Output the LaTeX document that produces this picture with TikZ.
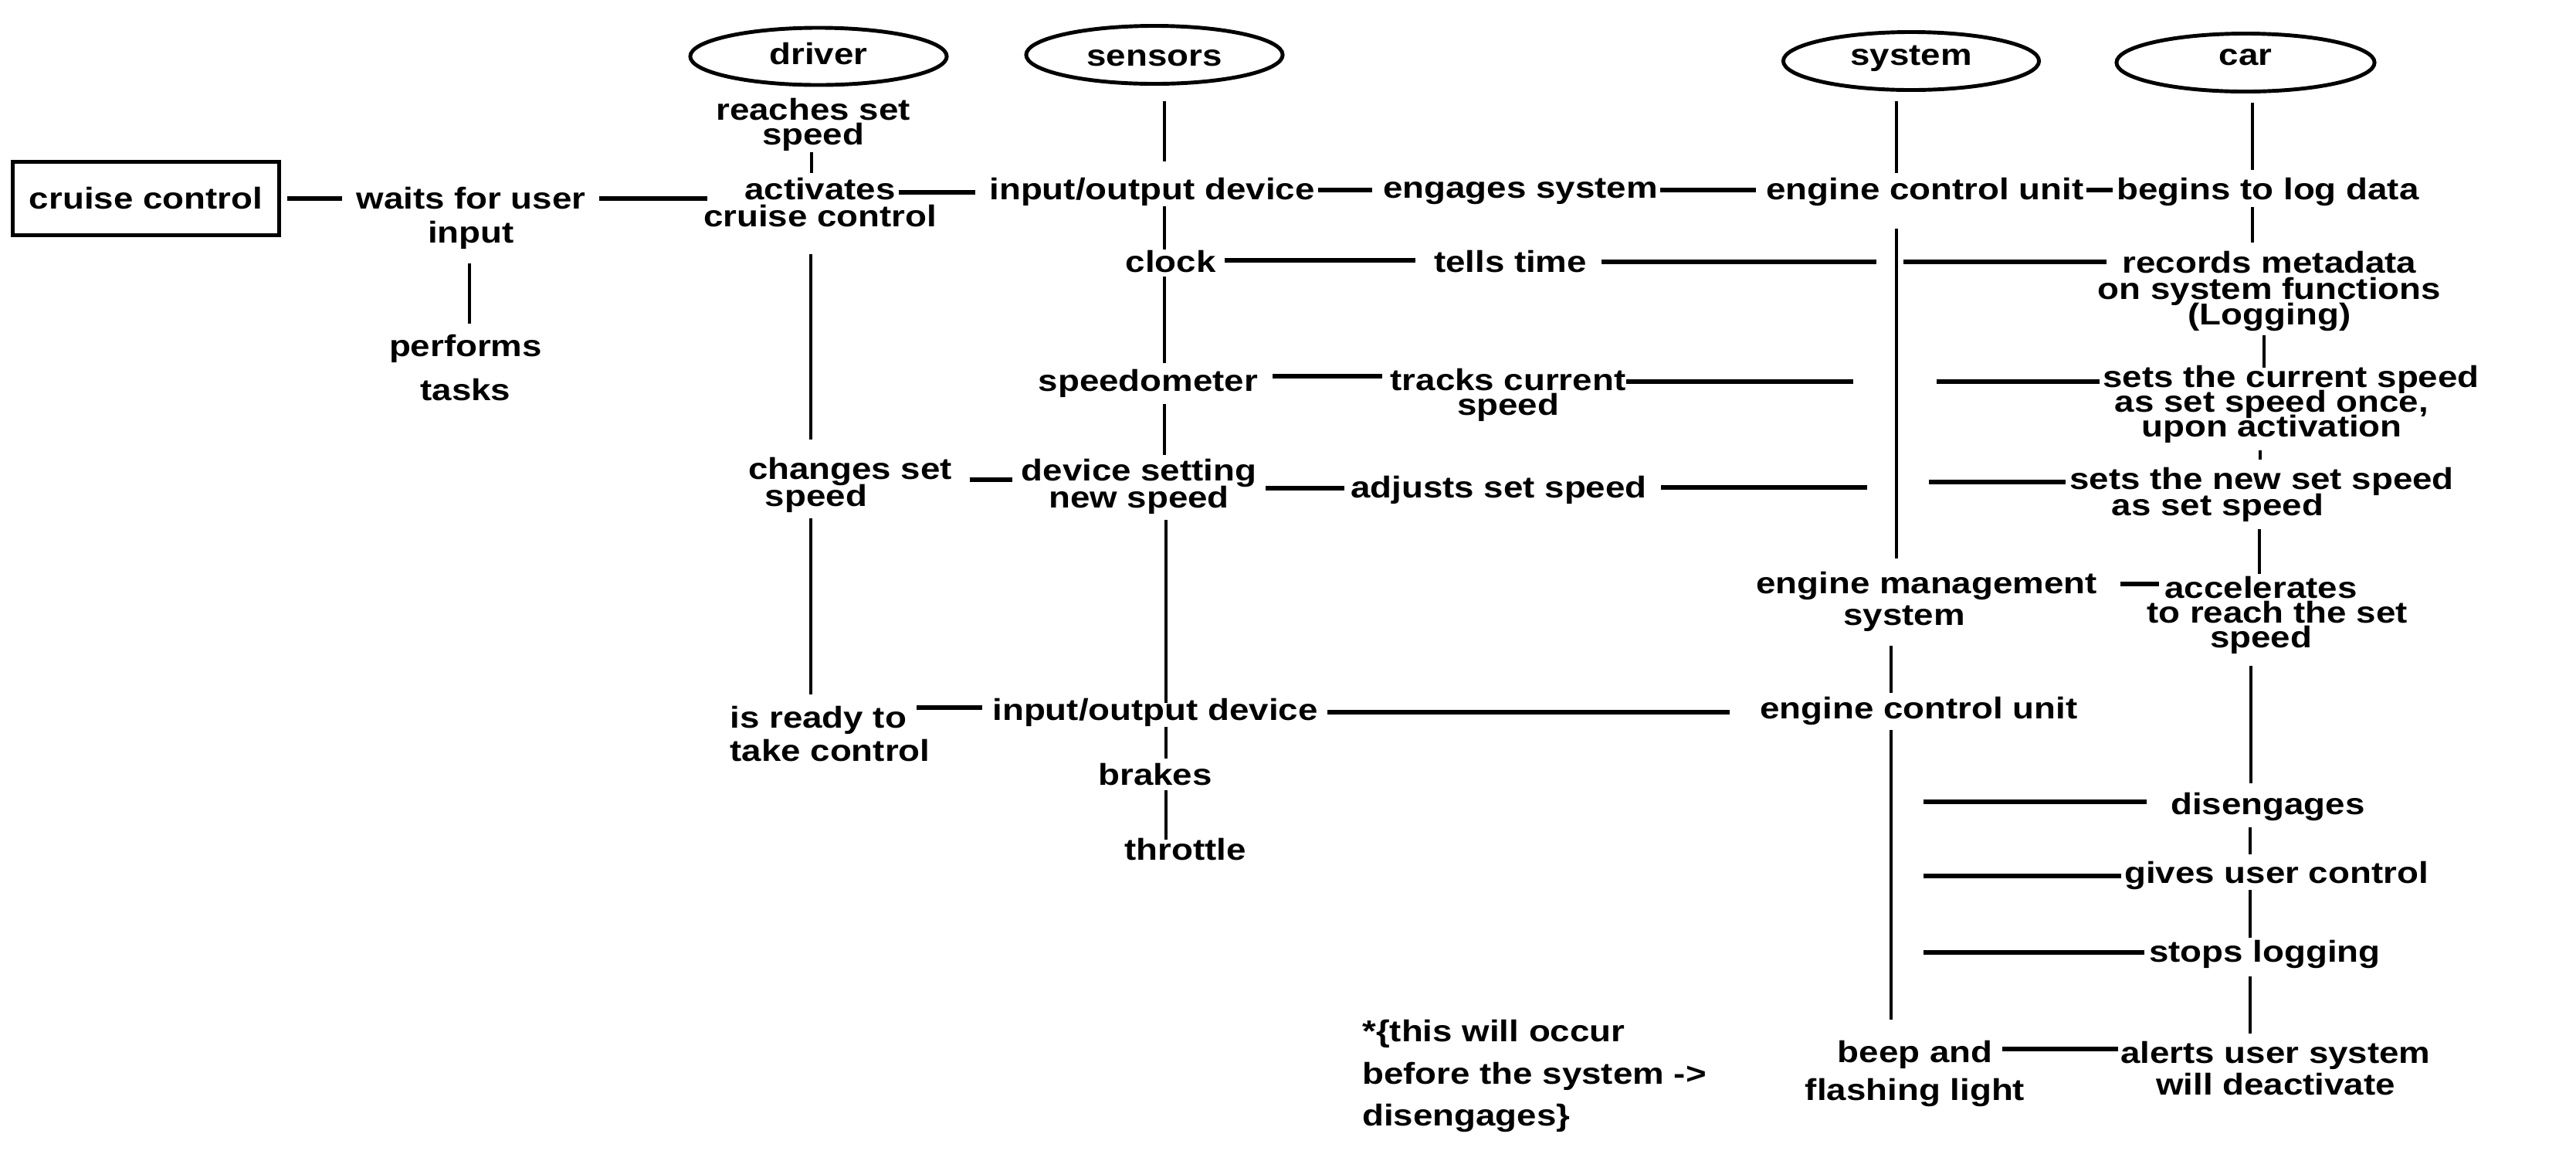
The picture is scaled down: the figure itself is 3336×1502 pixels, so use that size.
\documentclass[tikz,border=0pt]{standalone}
\usepackage{fontspec}
\setmainfont{Liberation Sans}[FakeStretch=1.17]
\usetikzlibrary{shapes.geometric}
\newcommand\lf[1]{\fontsize{11.1pt}{#1pt}\selectfont\bfseries\lineskiplimit=-100pt\relax}
\begin{document}
\begin{tikzpicture}[x=0.01cm, y=-0.01cm,
  txt/.style={align=center, inner sep=0pt, font=\lf{10}},
  actor/.style={ellipse, draw, line width=1.4pt, minimum width=3.32cm, minimum height=0.74cm, inner sep=0pt, font=\lf{10}, text height=0.28cm},
  hl/.style={line width=1.45pt},
  vl/.style={line width=1.1pt}]
\useasboundingbox (0,0) rectangle (3336,1502);

% nodes
\node[draw, line width=1.4pt, minimum width=3.44cm, minimum height=0.95cm, inner sep=0pt, font=\lf{10}] (cc) at (189,257) {cruise control};
\node[txt, font=\lf{12.5}] (waits) at (610,282) {waits for user\\input};
\node[txt, font=\lf{16.2}] (perf) at (603,476) {performs\\tasks};
\node[actor, text depth=0.08cm] (driver) at (1060,73) {driver};
\node[txt, font=\lf{9.1}] (reach) at (1053,161) {reaches set\\speed};
\node[txt] (activ) at (1062,262) {activates\\cruise control};
\node[txt] (chg) at (1101,628) {changes set\\speed\hspace*{0.88cm}};
\node[txt, align=left, font=\lf{12}] (ready) at (1075,950) {is ready to\\take control};
\node[actor, minimum height=0.75cm, text depth=0cm] (sensors) at (1495,71) {sensors};
\node[txt] (io1) at (1492,248) {input/output device};
\node[txt] (clock) at (1516,339) {clock};
\node[txt] (speedo) at (1487,496) {speedometer};
\node[txt] (device) at (1475,630) {device setting\\new speed};
\node[txt] (io2) at (1496,922) {input/output device};
\node[txt] (brakes) at (1496,1003) {brakes};
\node[txt] (throttle) at (1535,1100) {throttle};
\node[txt] (engages) at (1969,248) {engages system};
\node[txt] (tells) at (1956,339) {tells time};
\node[txt, font=\lf{9.1}] (tracks) at (1953,511) {tracks current\\speed};
\node[txt] (adjusts) at (1941,634) {adjusts set speed};
\node[actor, minimum width=3.31cm, minimum height=0.75cm, text depth=0.18cm] (system) at (2475,79) {system};
\node[actor, minimum width=3.34cm, minimum height=0.75cm, text depth=0.22cm] (car) at (2908,81) {car};
\node[txt] (ecu1) at (2493,248) {engine control unit};
\node[txt] (begins) at (2937,248) {begins to log data};
\node[txt, font=\lf{9.4}] (records) at (2939,377) {records metadata\\on system functions\\(Logging)};
\node[txt, font=\lf{9.1}] (setcur) at (2942,523) {\hspace*{0.5cm}sets the current speed\\as set speed once,\\upon activation};
\node[txt, font=\lf{9.7}] (setnew) at (2929,640) {sets the new set speed\\as set speed\hspace*{1.14cm}};
\node[txt, font=\lf{11.7}] (ems) at (2495,779) {engine management\\system\hspace*{0.58cm}};
\node[txt, font=\lf{9.1}] (accel) at (2928,796) {accelerates\\\hspace*{0.42cm}to reach the set\\speed};
\node[txt] (ecu2) at (2485,920) {engine control unit};
\node[txt] (diseng) at (2937,1044) {disengages};
\node[txt] (gives) at (2948,1133) {gives user control};
\node[txt] (stops) at (2933,1235) {stops logging};
\node[txt, font=\lf{13.9}] (beep) at (2480,1390) {beep and\\flashing light};
\node[txt, font=\lf{11.4}] (alerts) at (2947,1383) {alerts user system\\will deactivate};
\node[txt, align=left, font=\lf{15.6}] (note) at (1987,1393) {*\{this will occur\\before the system ->\\disengages\}};

% free ends beside the system lifeline
\coordinate (g1a) at (2430,339); \coordinate (g1b) at (2465,339);
\coordinate (g2a) at (2400,494); \coordinate (g2b) at (2508,494);
\coordinate (g3a) at (2418,631); \coordinate (g3b) at (2498,624);
\coordinate (g4) at (2491,1038);
\coordinate (g5) at (2491,1134);
\coordinate (g6) at (2491,1233);

% horizontal connectors
\draw[hl] ([shift={(8,0)}]cc.east) -- ([shift={(-18,-25)}]waits.west);
\draw[hl] ([shift={(17,-25)}]waits.east) -- ([shift={(6,-5)}]activ.west);
\draw[hl] ([shift={(-50,-13)}]activ.east) -- ([shift={(-18,1)}]io1.west);
\draw[hl] ([shift={(4,-2)}]io1.east) -- ([shift={(-14,-2)}]engages.west);
\draw[hl] ([shift={(3,-2)}]engages.east) -- ([shift={(-13,-2)}]ecu1.west);
\draw[hl] ([shift={(3,-2)}]ecu1.east) -- ([shift={(-5,-2)}]begins.west);
\draw[hl] ([shift={(11,-2)}]clock.east) -- ([shift={(-23,-2)}]tells.west);
\draw[hl] ([shift={(18,0)}]tells.east) -- (g1a);
\draw[hl] (g1b) -- ([shift={(12,-38)}]records.west);
\draw[hl] ([shift={(18,-9)}]speedo.east) -- ([shift={(-10,-24)}]tracks.west);
\draw[hl] ([shift={(0,-17)}]tracks.east) -- (g2a);
\draw[hl] (g2b) -- ([shift={(46,-29)}]setcur.west);
\draw[hl] ([shift={(22,-7)}]chg.east) -- ([shift={(-11,-9)}]device.west);
\draw[hl] ([shift={(11,2)}]device.east) -- ([shift={(-8,-2)}]adjusts.west);
\draw[hl] ([shift={(18,-3)}]adjusts.east) -- (g3a);
\draw[hl] (g3b) -- ([shift={(-5,-16)}]setnew.west);
\draw[hl] ([shift={(29,-23)}]ems.east) -- ([shift={(58,-40)}]accel.west);
\draw[hl] ([shift={(-18,-34)}]ready.east) -- ([shift={(-13,-6)}]io2.west);
\draw[hl] ([shift={(12,0)}]io2.east) -- ([shift={(-39,2)}]ecu2.west);
\draw[hl] (g4) -- ([shift={(-31,-6)}]diseng.west);
\draw[hl] (g5) -- ([shift={(-4,1)}]gives.west);
\draw[hl] (g6) -- ([shift={(-6,-2)}]stops.west);
\draw[hl] ([shift={(-30,-32)}]beep.east) -- ([shift={(-3,-25)}]alerts.west);

% vertical connectors
\draw[vl] ([shift={(-2,18)}]waits.south) -- ([shift={(5,-13)}]perf.north);
\draw[vl] ([shift={(-2,1)}]reach.south) -- ([shift={(-11,-5)}]activ.north);
\draw[vl] ([shift={(-12,34)}]activ.south) -- ([shift={(-51,-23)}]chg.north);
\draw[vl] ([shift={(-51,7)}]chg.south) -- ([shift={(-25,-15)}]ready.north);
\draw[vl] ([shift={(13,20)}]sensors.south) -- ([shift={(16,-20)}]io1.north);
\draw[vl] ([shift={(16,0)}]io1.south) -- ([shift={(-8,-1)}]clock.north);
\draw[vl] ([shift={(-8,4)}]clock.south) -- ([shift={(21,-7)}]speedo.north);
\draw[vl] ([shift={(21,8)}]speedo.south) -- ([shift={(33,-5)}]device.north);
\draw[vl] ([shift={(35,7)}]device.south) -- ([shift={(14,7)}]io2.north);
\draw[vl] ([shift={(14,0)}]io2.south) -- ([shift={(14,-6)}]brakes.north);
\draw[vl] ([shift={(14,5)}]brakes.south) -- ([shift={(-25,2)}]throttle.north);
\draw[vl] ([shift={(-19,12)}]system.south) -- ([shift={(-37,-5)}]ecu1.north);
\draw[vl] ([shift={(-37,29)}]ecu1.south) -- ([shift={(-39,-17)}]ems.north);
\draw[vl] ([shift={(-46,18)}]ems.south) -- ([shift={(-36,-4)}]ecu2.north);
\draw[vl] ([shift={(-36,6)}]ecu2.south) -- ([shift={(-31,-27)}]beep.north);
\draw[vl] ([shift={(9,12)}]car.south) -- ([shift={(-20,-9)}]begins.north);
\draw[vl] ([shift={(-20,1)}]begins.south) -- ([shift={(-22,-11)}]records.north);
\draw[vl] ([shift={(-7,5)}]records.south) -- ([shift={(-10,4)}]setcur.north);
\draw[vl] ([shift={(-15,9)}]setcur.south) -- ([shift={(-2,-9)}]setnew.north);
\draw[vl] ([shift={(-3,9)}]setnew.south) -- ([shift={(-2,-2)}]accel.north);
\draw[vl] ([shift={(-13,15)}]accel.south) -- ([shift={(-22,-11)}]diseng.north);
\draw[vl] ([shift={(-23,8)}]diseng.south) -- ([shift={(-34,-8)}]gives.north);
\draw[vl] ([shift={(-34,0)}]gives.south) -- ([shift={(-19,-2)}]stops.north);
\draw[vl] ([shift={(-19,10)}]stops.south) -- ([shift={(-33,-10)}]alerts.north);
\end{tikzpicture}
\end{document}
